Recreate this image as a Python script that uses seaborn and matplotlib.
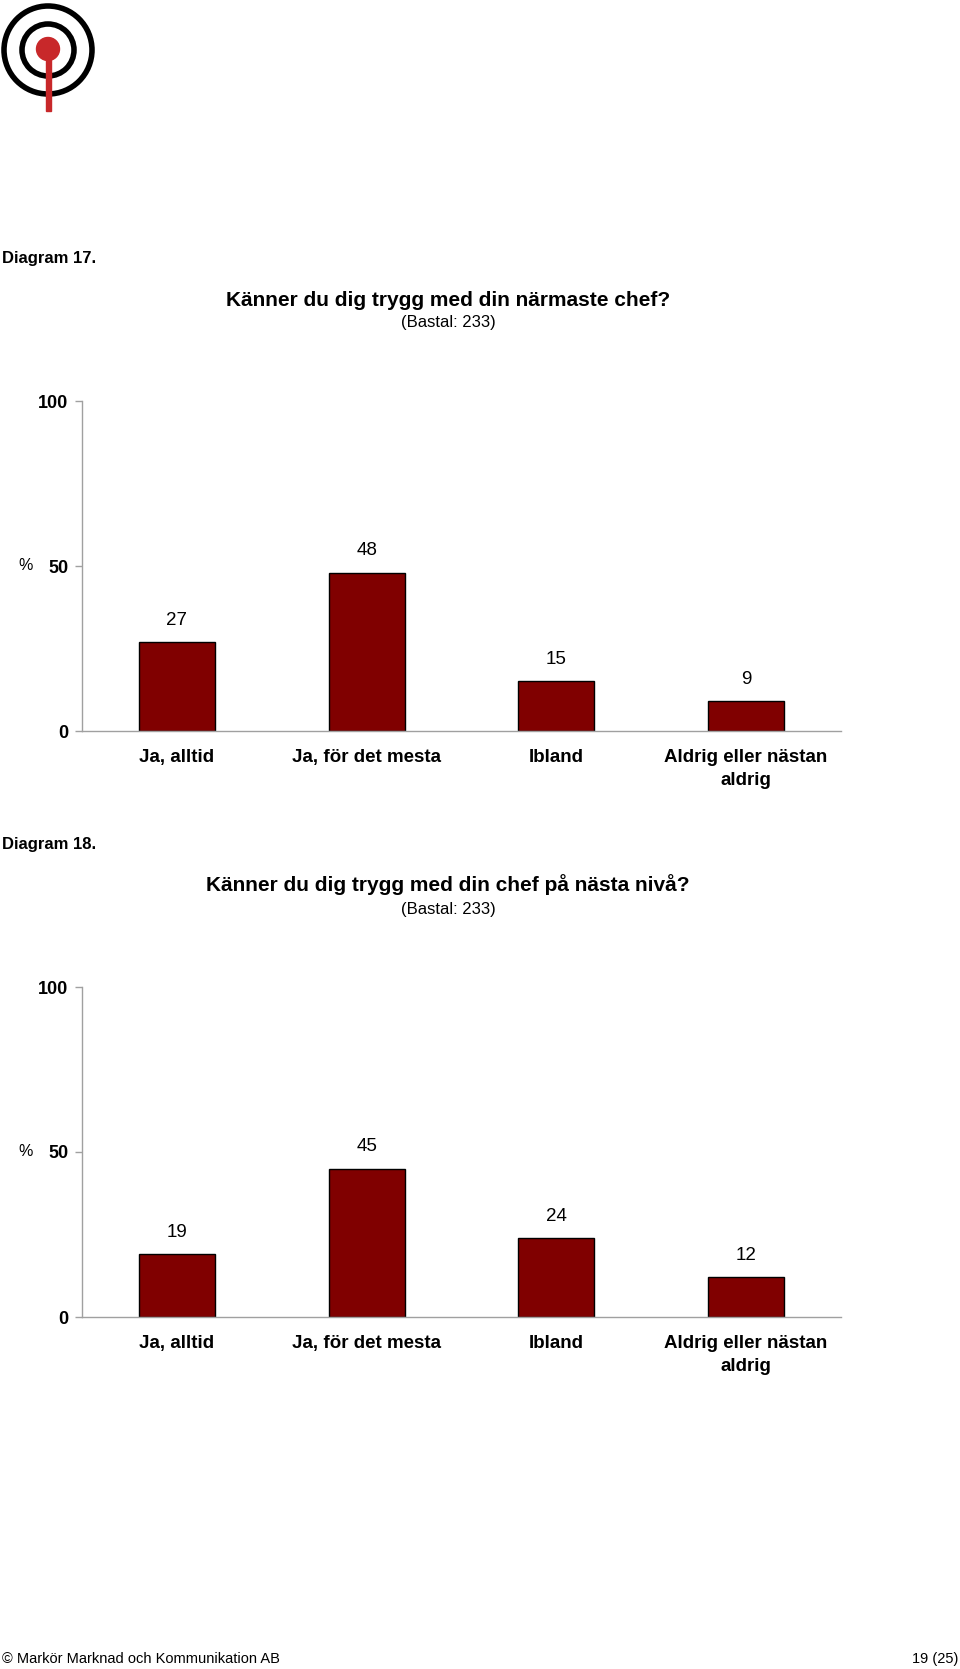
import matplotlib
matplotlib.use("Agg")
import matplotlib.pyplot as plt
import seaborn as sns
import pandas as pd
from matplotlib.patches import Circle, Rectangle

sns.set_theme(style="white")
plt.rcParams['font.family'] = ['Liberation Sans', 'DejaVu Sans']
plt.rcParams['text.color'] = 'black'
plt.rcParams['xtick.labelcolor'] = 'black'
plt.rcParams['ytick.labelcolor'] = 'black'

categories = ["Ja, alltid", "Ja, för det mesta", "Ibland", "Aldrig eller nästan\naldrig"]
values_17 = [27, 48, 15, 9]
values_18 = [19, 45, 24, 12]
yticks = [0, 50, 100]
title_17 = "Känner du dig trygg med din närmaste chef?"
title_18 = "Känner du dig trygg med din chef på nästa nivå?"
subtitle = "(Bastal: 233)"

W, H = 960, 1669
fig = plt.figure(figsize=(W / 100, H / 100), dpi=100)

def fx(px):
    return px / W

def fy(py):
    return 1 - py / H

# logo
lax = fig.add_axes([0, fy(120), fx(100), 120 / H])
lax.set_xlim(0, 100)
lax.set_ylim(120, 0)
lax.set_aspect('equal')
lax.axis('off')
lax.add_patch(Circle((48, 50), 44, fill=False, lw=4.0, ec='black'))
lax.add_patch(Circle((48, 50), 26, fill=False, lw=4.0, ec='black'))
lax.add_patch(Rectangle((45.5, 50), 5, 61, color='#c8282a'))
lax.add_patch(Circle((48, 49), 11.5, color='#c8282a'))


def draw_chart(top_px, bottom_px, values):
    ax = fig.add_axes([fx(82), fy(bottom_px), fx(841) - fx(82), (bottom_px - top_px) / H])
    df = pd.DataFrame({"cat": categories, "val": values})
    sns.barplot(data=df, x="cat", y="val", color="#800000", edgecolor="black",
                linewidth=1.0, width=0.4, saturation=1, ax=ax)
    ax.set_xlim(-0.5, len(categories) - 0.5)
    ax.set_ylim(0, 100)
    ax.set_yticks(yticks)
    ax.set_yticklabels([str(t) for t in yticks], fontsize=13, fontweight='bold')
    ax.set_xticks(range(len(categories)))
    ax.set_xticklabels(categories, fontsize=13.5, fontweight='bold', linespacing=1.45)
    ax.set_xticks([i - 0.5 for i in range(len(categories) + 1)], minor=True)
    ax.tick_params(axis='x', which='major', length=0, pad=13)
    ax.tick_params(axis='x', which='minor', length=6, color='#a0a0a0', width=1, direction='out')
    ax.tick_params(axis='y', length=5, color='#a0a0a0', width=1, direction='out', pad=5, left=True)
    ax.set_xlabel("")
    ax.set_ylabel("")
    for s in ['top', 'right']:
        ax.spines[s].set_visible(False)
    for s in ['left', 'bottom']:
        ax.spines[s].set_color('#a0a0a0')
        ax.spines[s].set_linewidth(1)
    for i, v in enumerate(values):
        ax.text(i, v + 4, str(v), ha='center', va='bottom', fontsize=13.5, color='black')
    fig.text(fx(25.5), fy((top_px + bottom_px) / 2), "%", fontsize=11.5, ha='center', va='center')
    return ax

draw_chart(401, 731, values_17)
draw_chart(987, 1317, values_18)

fig.text(fx(2), fy(259), "Diagram 17.", fontsize=12, fontweight='bold', va='center', ha='left')
fig.text(fx(448), fy(300), title_17, fontsize=15, fontweight='bold', va='center', ha='center')
fig.text(fx(448), fy(322), subtitle, fontsize=12, va='center', ha='center')

fig.text(fx(2), fy(844), "Diagram 18.", fontsize=12, fontweight='bold', va='center', ha='left')
fig.text(fx(448), fy(885), title_18, fontsize=15, fontweight='bold', va='center', ha='center')
fig.text(fx(448), fy(909), subtitle, fontsize=12, va='center', ha='center')

fig.text(fx(2), fy(1659), "© Markör Marknad och Kommunikation AB", fontsize=10.5, va='center', ha='left')
fig.text(fx(958), fy(1659), "19 (25)", fontsize=10.5, va='center', ha='right')

fig.savefig("out.png", dpi=100, facecolor='white')
